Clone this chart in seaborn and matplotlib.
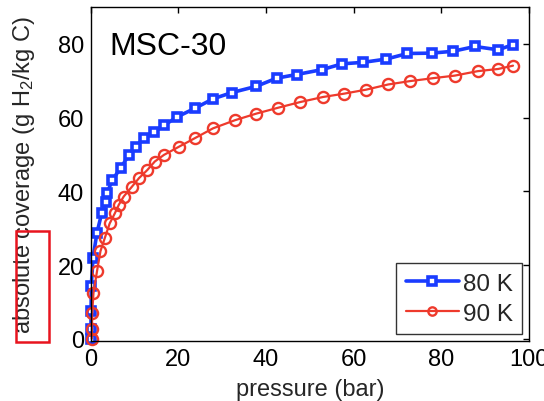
import matplotlib
matplotlib.use("Agg")
import matplotlib.pyplot as plt
import matplotlib.patches as mpatches
import seaborn as sns
import pandas as pd

p80 = [0, 0.02, 0.05, 0.1, 0.5, 1.4, 2.5, 3.4, 3.7, 4.9, 6.8, 8.7, 10.2, 12.1, 14.4, 16.7,
       19.7, 23.7, 27.9, 32.2, 37.8, 42.4, 47.0, 52.7, 57.4, 62.2, 67.5, 72.3, 77.8, 82.7,
       87.7, 93.0, 96.4]
c80 = [0, 2.7, 7.5, 14.3, 22.0, 28.8, 34.2, 37.0, 39.5, 43.1, 46.3, 49.9, 52.1, 54.4, 56.1,
       57.9, 60.2, 62.5, 65.1, 66.8, 68.5, 70.7, 71.7, 73.0, 74.6, 75.0, 75.9, 77.4, 77.5,
       78.0, 79.3, 78.4, 79.8]

p90 = [0.2, 0.25, 0.3, 0.6, 1.4, 2.2, 3.2, 4.3, 5.5, 6.4, 7.5, 9.4, 11.0, 12.9, 14.6, 16.7,
       20.1, 23.7, 27.9, 32.9, 37.8, 42.8, 47.7, 53.0, 57.8, 62.9, 67.9, 72.8, 78.1, 83.1,
       88.3, 93.0, 96.4]
c90 = [0, 2.7, 7.0, 12.4, 18.3, 23.8, 27.4, 31.3, 34.1, 36.4, 38.6, 41.3, 43.6, 45.8, 48.1,
       49.9, 52.1, 54.4, 57.1, 59.3, 61.1, 62.7, 64.2, 65.6, 66.5, 67.6, 69.0, 69.9, 70.7,
       71.4, 72.6, 73.2, 74.1]

labels = ["80 K", "90 K"]
xticks = [0, 20, 40, 60, 80, 100]
yticks = [0, 20, 40, 60, 80]

sns.set_style("white")
plt.rcParams['font.family'] = ['Liberation Sans', 'DejaVu Sans']
plt.rcParams['mathtext.fontset'] = 'custom'
plt.rcParams['mathtext.rm'] = 'Liberation Sans'
plt.rcParams['mathtext.it'] = 'Liberation Sans'

fig = plt.figure(figsize=(5.44, 4.02), dpi=100)
ax = fig.add_axes([0.167, 0.150, 0.805, 0.830])

df80 = pd.DataFrame({"pressure": p80, "coverage": c80})
df90 = pd.DataFrame({"pressure": p90, "coverage": c90})

blue = "#1a3cff"
red = "#ee3a2c"

sns.lineplot(data=df80, x="pressure", y="coverage", ax=ax, color=blue, lw=2.6,
             marker="s", markersize=6.4, markerfacecolor="white", markeredgecolor=blue,
             markeredgewidth=2.6, sort=False, estimator=None, label=labels[0], clip_on=False)
sns.lineplot(data=df90, x="pressure", y="coverage", ax=ax, color=red, lw=1.6,
             marker="o", markersize=8, markerfacecolor="none", markeredgecolor=red,
             markeredgewidth=1.7, sort=False, estimator=None, label=labels[1], clip_on=False)

ax.set_xlim(0, 100)
ax.set_ylim(-0.5, 90)
ax.set_xticks(xticks)
ax.set_yticks(yticks)
ax.tick_params(direction="in", length=4, width=1, labelsize=17, top=True, right=True,
               colors="black")
ax.tick_params(axis="x", pad=5)
ax.tick_params(axis="y", pad=5)
for s in ax.spines.values():
    s.set_color("black")
    s.set_linewidth(1.0)

ax.set_xlabel("pressure (bar)", fontsize=17, labelpad=6)
ax.set_ylabel("absolute coverage (g H$_2$/kg C)", fontsize=17, labelpad=15)

ax.text(0.043, 0.859, "MSC-30", transform=ax.transAxes, fontsize=23, color="black",
        va="baseline")

leg = ax.legend(loc="lower right", fontsize=17.5, frameon=True, fancybox=False,
                edgecolor="black", handlelength=2.2, borderpad=0.38, labelspacing=0.33,
                handletextpad=0.15, borderaxespad=0.28)
leg.get_frame().set_linewidth(1.0)
for h in leg.get_lines():
    h.set_markersize(6)

rect = mpatches.Rectangle((16 / 544, 1 - 343 / 402), 33 / 544, 111 / 402,
                          transform=fig.transFigure, fill=False, edgecolor="#e8141e",
                          linewidth=1.8)
fig.patches.append(rect)

fig.savefig("out.png", dpi=100)
